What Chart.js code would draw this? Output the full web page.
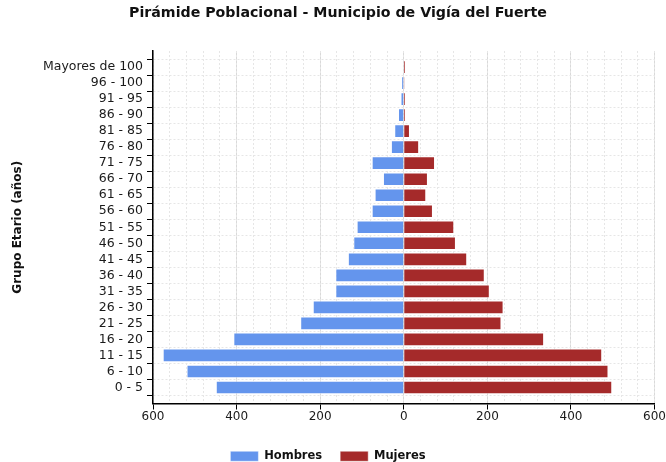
<!DOCTYPE html>
<html>
<head>
<meta charset="utf-8">
<script src="https://cdn.jsdelivr.net/npm/chart.js@4/dist/chart.umd.min.js"></script>
<style>
  html, body { margin: 0; padding: 0; background: #fff; }
  #wrap { width: 666px; height: 462px; position: relative; }
</style>
</head>
<body>
<div id="wrap"><canvas id="c"></canvas></div>
<script>
const categories = ['Mayores de 100', '96 - 100', '91 - 95', '86 - 90', '81 - 85', '76 - 80', '71 - 75',
  '66 - 70', '61 - 65', '56 - 60', '51 - 55', '46 - 50', '41 - 45', '36 - 40', '31 - 35',
  '26 - 30', '21 - 25', '16 - 20', '11 - 15', '6 - 10', '0 - 5'];
const hombres = [0, 5, 7, 13, 22, 30, 76, 49, 69, 76, 112, 120, 133, 163, 163, 217, 247, 407, 576, 519, 449];
const mujeres = [3, 1, 3, 3, 14, 36, 74, 57, 53, 69, 120, 124, 151, 193, 205, 238, 233, 335, 474, 489, 498];
const xTickValues = [-600, -400, -200, 0, 200, 400, 600];
const titleText = 'Pirámide Poblacional - Municipio de Vigía del Fuerte';
const yTitle = 'Grupo Etario (años)';
const seriesNames = ['Hombres', 'Mujeres'];

Chart.defaults.font.family = "'DejaVu Sans', sans-serif";
Chart.defaults.color = '#1a1a1a';

const labels = [''].concat(categories, ['']);
const hData = [null].concat(hombres.map(v => -v), [null]);
const mData = [null].concat(mujeres, [null]);

const legendShift = {
  id: 'legendShift',
  afterLayout(chart) {
    if (chart.legend) { chart.legend.left -= 10; chart.legend.right -= 10; }
  }
};

new Chart(document.getElementById('c'), {
  type: 'bar',
  data: {
    labels: labels,
    datasets: [
      { label: seriesNames[0], data: hData, backgroundColor: '#6495ED', borderColor: 'rgba(255,255,255,0.45)', borderWidth: 1, barThickness: 13, xAxisID: 'x' },
      { label: seriesNames[1], data: mData, backgroundColor: '#A52A2A', borderColor: 'rgba(255,255,255,0.45)', borderWidth: 1, barThickness: 13, xAxisID: 'x' }
    ]
  },
  plugins: [legendShift],
  options: {
    indexAxis: 'y',
    responsive: true,
    maintainAspectRatio: false,
    animation: false,
    layout: { padding: { left: 10, right: 0, top: 0, bottom: -10 } },
    plugins: {
      title: {
        display: true, text: titleText, color: '#111',
        font: { size: 14.2, weight: 'bold' },
        padding: { top: 5, bottom: 29 }
      },
      legend: {
        position: 'bottom',
        labels: {
          boxWidth: 28, boxHeight: 10, padding: 18, color: '#111',
          font: { size: 11.5, weight: 'bold' }
        }
      },
      tooltip: { enabled: false }
    },
    scales: {
      x: {
        type: 'linear', min: -600, max: 600, stacked: true, position: 'bottom',
        afterBuildTicks: s => { s.ticks = xTickValues.map(v => ({ value: v })); },
        ticks: { callback: v => Math.abs(v), font: { size: 12 }, padding: 0, maxRotation: 0 },
        grid: { color: '#d9d9d9', lineWidth: 1, drawTicks: true, tickLength: 6, tickColor: '#000' },
        border: { display: true, color: '#000', width: 1.5 },
        afterFit: s => { s.height = 29; }
      },
      x2: {
        type: 'linear', min: -600, max: 600, position: 'bottom', display: true,
        ticks: { display: false, stepSize: 40 },
        grid: { color: '#e6e6e6', lineWidth: 1, drawTicks: false },
        border: { display: false, dash: [2, 2] },
        afterFit: s => { s.height = 0; }
      },
      y: {
        type: 'category', stacked: true, offset: false, position: 'left',
        ticks: { font: { size: 12.5 }, padding: 4, autoSkip: false },
        grid: { color: '#e6e6e6', lineWidth: 1, drawTicks: true, tickLength: 6, tickColor: '#000' },
        border: { display: true, color: '#000', width: 1.5, dash: [2, 2] },
        title: { display: true, text: yTitle, color: '#111', font: { size: 12, weight: 'bold' }, padding: { top: 1, bottom: 0 } },
        afterFit: s => { s.width = 143; }
      }
    }
  }
});
</script>
</body>
</html>
